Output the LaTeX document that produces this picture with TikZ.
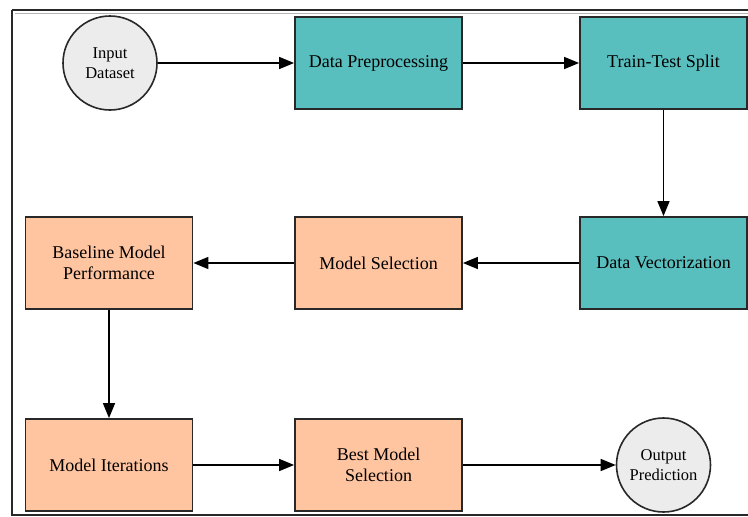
\documentclass[tikz,border=0pt]{standalone}
\usepackage{fontspec}
\setmainfont{Liberation Serif}
\newfontfamily\diagfont{Liberation Serif}
\usetikzlibrary{arrows.meta}
\definecolor{tealbox}{RGB}{89,190,190}
\definecolor{peachbox}{RGB}{255,196,160}
\definecolor{circfill}{RGB}{236,236,236}
\definecolor{edge}{RGB}{40,40,40}
\tikzset{
  procbox/.style={draw=edge, line width=1.8pt, minimum width=167pt, minimum height=92pt,
    inner sep=0pt, align=center, font=\diagfont\fontsize{18}{21}\selectfont},
  tealnode/.style={procbox, fill=tealbox},
  peachnode/.style={procbox, fill=peachbox},
  endnode/.style={circle, draw=edge, line width=1.6pt, fill=circfill, minimum size=94pt,
    inner sep=0pt, align=center, font=\diagfont\fontsize{16.5}{20}\selectfont},
  flow/.style={draw=black, line width=1.6pt, -{Triangle[length=15pt,width=12pt]}}
}
\begin{document}
\begin{tikzpicture}[x=1pt,y=-1pt]
\useasboundingbox (0,0) rectangle (748,517);
\draw[draw=edge, line width=2.2pt] (12,10) -- (760,10);
\draw[draw=edge, line width=2.2pt] (12,10) -- (12,515) -- (760,515);
\draw[draw=gray!60, line width=0.8pt] (15,13.5) -- (760,13.5);
\node[endnode] (input) at (110,63) {Input\\Dataset};
\node[tealnode] (prep) at (378.5,63) {Data Preprocessing};
\node[tealnode] (split) at (663.5,63) {Train-Test Split};
\node[tealnode] (vec) at (663.5,263) {Data Vectorization};
\node[peachnode] (sel) at (378.5,263) {Model Selection};
\node[peachnode] (base) at (109,263) {Baseline Model\\Performance};
\node[peachnode] (iter) at (109,465) {Model Iterations};
\node[peachnode] (best) at (378.5,465) {Best Model\\Selection};
\node[endnode] (out) at (663.5,465) {Output\\Prediction};
\draw[flow] (input) -- (prep);
\draw[flow] (prep) -- (split);
\draw[flow] (split) -- (vec);
\draw[flow] (vec) -- (sel);
\draw[flow] (sel) -- (base);
\draw[flow] (base) -- (iter);
\draw[flow] (iter) -- (best);
\draw[flow] (best) -- (out);
\end{tikzpicture}
\end{document}
